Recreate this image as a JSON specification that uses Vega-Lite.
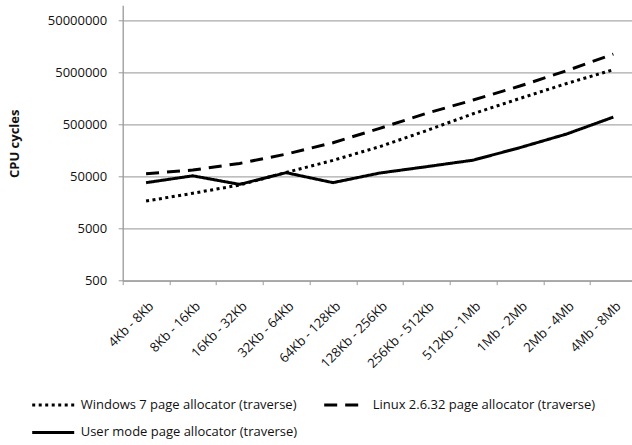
{
  "$schema": "https://vega.github.io/schema/vega-lite/v6.json",
  "autosize": {"type": "none"},
  "padding": {"left": 122.7, "top": 5.3, "right": 0, "bottom": 164},
  "width": 509.3,
  "height": 275.4,
  "background": "white",
  "config": {"view": {"stroke": null}, "font": "Open Sans"},
  "data": {"values": [
    {"range": "4Kb - 8Kb", "series": "Windows 7 page allocator (traverse)", "cycles": 17000},
    {"range": "8Kb - 16Kb", "series": "Windows 7 page allocator (traverse)", "cycles": 24000},
    {"range": "16Kb - 32Kb", "series": "Windows 7 page allocator (traverse)", "cycles": 34600},
    {"range": "32Kb - 64Kb", "series": "Windows 7 page allocator (traverse)", "cycles": 60500},
    {"range": "64Kb - 128Kb", "series": "Windows 7 page allocator (traverse)", "cycles": 103000},
    {"range": "128Kb - 256Kb", "series": "Windows 7 page allocator (traverse)", "cycles": 189000},
    {"range": "256Kb - 512Kb", "series": "Windows 7 page allocator (traverse)", "cycles": 384000},
    {"range": "512Kb - 1Mb", "series": "Windows 7 page allocator (traverse)", "cycles": 813000},
    {"range": "1Mb - 2Mb", "series": "Windows 7 page allocator (traverse)", "cycles": 1600000},
    {"range": "2Mb - 4Mb", "series": "Windows 7 page allocator (traverse)", "cycles": 3100000},
    {"range": "4Mb - 8Mb", "series": "Windows 7 page allocator (traverse)", "cycles": 5700000},
    {"range": "4Kb - 8Kb", "series": "Linux 2.6.32 page allocator (traverse)", "cycles": 57000},
    {"range": "8Kb - 16Kb", "series": "Linux 2.6.32 page allocator (traverse)", "cycles": 67000},
    {"range": "16Kb - 32Kb", "series": "Linux 2.6.32 page allocator (traverse)", "cycles": 90000},
    {"range": "32Kb - 64Kb", "series": "Linux 2.6.32 page allocator (traverse)", "cycles": 136000},
    {"range": "64Kb - 128Kb", "series": "Linux 2.6.32 page allocator (traverse)", "cycles": 225000},
    {"range": "128Kb - 256Kb", "series": "Linux 2.6.32 page allocator (traverse)", "cycles": 425000},
    {"range": "256Kb - 512Kb", "series": "Linux 2.6.32 page allocator (traverse)", "cycles": 826000},
    {"range": "512Kb - 1Mb", "series": "Linux 2.6.32 page allocator (traverse)", "cycles": 1490000},
    {"range": "1Mb - 2Mb", "series": "Linux 2.6.32 page allocator (traverse)", "cycles": 2770000},
    {"range": "2Mb - 4Mb", "series": "Linux 2.6.32 page allocator (traverse)", "cycles": 5460000},
    {"range": "4Mb - 8Mb", "series": "Linux 2.6.32 page allocator (traverse)", "cycles": 11400000},
    {"range": "4Kb - 8Kb", "series": "User mode page allocator (traverse)", "cycles": 38400},
    {"range": "8Kb - 16Kb", "series": "User mode page allocator (traverse)", "cycles": 52000},
    {"range": "16Kb - 32Kb", "series": "User mode page allocator (traverse)", "cycles": 35600},
    {"range": "32Kb - 64Kb", "series": "User mode page allocator (traverse)", "cycles": 59700},
    {"range": "64Kb - 128Kb", "series": "User mode page allocator (traverse)", "cycles": 38400},
    {"range": "128Kb - 256Kb", "series": "User mode page allocator (traverse)", "cycles": 58800},
    {"range": "256Kb - 512Kb", "series": "User mode page allocator (traverse)", "cycles": 77900},
    {"range": "512Kb - 1Mb", "series": "User mode page allocator (traverse)", "cycles": 104000},
    {"range": "1Mb - 2Mb", "series": "User mode page allocator (traverse)", "cycles": 181000},
    {"range": "2Mb - 4Mb", "series": "User mode page allocator (traverse)", "cycles": 331000},
    {"range": "4Mb - 8Mb", "series": "User mode page allocator (traverse)", "cycles": 700000}
  ]},
  "mark": {"type": "line", "color": "black", "strokeWidth": 3, "strokeCap": "butt", "strokeJoin": "round"},
  "encoding": {
    "x": {
      "field": "range", "type": "nominal",
      "sort": ["4Kb - 8Kb", "8Kb - 16Kb", "16Kb - 32Kb", "32Kb - 64Kb", "64Kb - 128Kb", "128Kb - 256Kb", "256Kb - 512Kb", "512Kb - 1Mb", "1Mb - 2Mb", "2Mb - 4Mb", "4Mb - 8Mb"],
      "scale": {"type": "band", "range": [0, 514], "paddingInner": 0, "paddingOuter": 0},
      "axis": {
        "title": null, "tickBand": "extent", "grid": false,
        "labelAngle": -45, "labelAlign": "right", "labelBaseline": "middle",
        "labelPadding": 19, "labelOffset": 5, "labelFontSize": 13, "labelColor": "#111",
        "tickSize": 4, "tickColor": "#999", "domainColor": "#999", "domainWidth": 1.3
      }
    },
    "y": {
      "field": "cycles", "type": "quantitative",
      "scale": {"type": "log", "domain": [500, 98900000], "nice": false},
      "axis": {
        "values": [500, 5000, 50000, 500000, 5000000, 50000000], "format": "d",
        "title": "CPU cycles", "titleFontWeight": "bold", "titleFontSize": 13, "titleColor": "#111",
        "titleX": -104.4, "titleY": 138, "titleAngle": -90, "titleAlign": "center", "titleBaseline": "alphabetic",
        "labelFontSize": 13, "labelColor": "#111", "labelPadding": 11.5,
        "tickSize": 4.5, "tickColor": "#999", "domainColor": "#999", "domainWidth": 1.3,
        "gridColor": "#aaaaaa", "gridWidth": 1.3
      }
    },
    "strokeDash": {
      "field": "series", "type": "nominal",
      "scale": {
        "domain": ["Windows 7 page allocator (traverse)", "Linux 2.6.32 page allocator (traverse)", "User mode page allocator (traverse)"],
        "range": [[3, 3.5], [13, 8], [1, 0]]
      },
      "legend": {
        "orient": "none", "legendX": -76, "legendY": 393, "title": null,
        "columns": 2, "direction": "horizontal", "padding": 0,
        "symbolType": "M-4.2,0H4.2", "symbolSize": 100, "symbolStrokeWidth": 3, "symbolStrokeColor": "black",
        "labelFontSize": 13, "labelColor": "#111", "labelOffset": 21, "labelLimit": 400,
        "columnPadding": 20, "rowPadding": 13.7
      }
    }
  }
}
